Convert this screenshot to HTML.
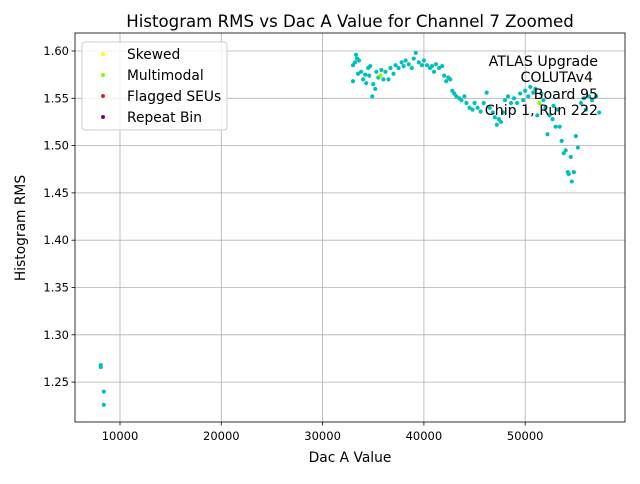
<!DOCTYPE html>
<html><head><meta charset="utf-8"><style>
body{margin:0;background:#fff;font-family:"DejaVu Sans","Liberation Sans",sans-serif}
svg text{font-family:"DejaVu Sans","Liberation Sans",sans-serif}
</style></head><body>
<svg id="chart" width="640" height="480" xmlns="http://www.w3.org/2000/svg"></svg>
<script>
const xs=[33.0,33.0,33.2,33.3,33.4,33.5,33.6,33.8,34.0,34.2,34.3,34.5,34.7,34.6,34.9,35.0,35.2,35.3,35.5,35.8,36.0,36.2,36.5,36.7,37.0,37.2,37.5,37.8,38.0,38.2,38.5,38.8,39.0,39.2,39.5,39.8,40.0,40.3,40.6,40.8,41.0,41.2,41.5,41.8,42.0,42.2,42.4,42.6,42.8,43.0,43.2,43.5,43.7,44.0,44.2,44.5,44.8,45.0,45.3,45.6,45.9,46.2,46.5,46.8,47.0,47.2,47.4,47.6,47.8,48.0,48.3,48.6,48.9,49.2,49.5,49.8,50.0,50.3,50.5,50.8,51.0,51.2,51.6,51.8,52.0,52.2,52.4,52.7,52.8,53.0,53.2,53.4,53.6,53.8,54.0,54.2,54.3,54.5,54.6,54.8,55.0,55.2,55.5,55.8,56.0,56.3,56.6,57.0,57.3,8.1,8.1,8.4,8.4];
const ys=[1.585,1.568,1.588,1.596,1.592,1.576,1.590,1.578,1.570,1.575,1.566,1.582,1.584,1.574,1.552,1.565,1.560,1.578,1.572,1.580,1.570,1.578,1.570,1.582,1.576,1.585,1.582,1.588,1.584,1.590,1.586,1.582,1.592,1.598,1.588,1.585,1.590,1.585,1.582,1.584,1.578,1.586,1.582,1.584,1.574,1.568,1.572,1.570,1.558,1.555,1.552,1.550,1.548,1.552,1.545,1.540,1.538,1.545,1.540,1.536,1.545,1.556,1.540,1.535,1.530,1.522,1.528,1.525,1.535,1.548,1.552,1.545,1.550,1.545,1.555,1.548,1.558,1.552,1.562,1.556,1.560,1.532,1.555,1.548,1.540,1.512,1.532,1.528,1.542,1.520,1.538,1.520,1.505,1.492,1.495,1.472,1.470,1.488,1.462,1.472,1.510,1.498,1.545,1.550,1.538,1.552,1.548,1.552,1.535,1.268,1.266,1.240,1.226];
const multiX=[35.7,51.4];
const multiY=[1.574,1.545];
const xTicks=[10000,20000,30000,40000,50000];
const yTicks=[1.25,1.30,1.35,1.40,1.45,1.50,1.55,1.60];
const L=75,R=625,T=33,B=422;
const X=v=>18.7+v*0.01013;
const Y=v=>51+(1.60-v)*946;
const NS='http://www.w3.org/2000/svg';
const svg=document.getElementById('chart');
function mk(tag,attrs,parent){const e=document.createElementNS(NS,tag);for(const k in attrs)e.setAttribute(k,attrs[k]);(parent||svg).appendChild(e);return e;}
xTicks.forEach(t=>{
 const g=mk('line',{x1:X(t),x2:X(t),y1:T,y2:B,stroke:'#b0b0b0','stroke-width':0.8});
 
 
 mk('line',{x1:X(t),x2:X(t),y1:B,y2:B+3.5,stroke:'#000','stroke-width':0.8});
 const tx=mk('text',{x:X(t),y:B+18,'text-anchor':'middle','font-size':11.5});
 tx.textContent=t;
 
 
});
yTicks.forEach(t=>{
 const g=mk('line',{x1:L,x2:R,y1:Y(t),y2:Y(t),stroke:'#b0b0b0','stroke-width':0.8});
 
 
 mk('line',{x1:L-3.5,x2:L,y1:Y(t),y2:Y(t),stroke:'#000','stroke-width':0.8});
 const tx=mk('text',{x:L-6,y:Y(t)+4,'text-anchor':'end','font-size':11.5});
 tx.textContent=t.toFixed(2);
 
 
});
xs.forEach((v,i)=>{
 const c=mk('circle',{cx:X(v*1000),cy:Y(ys[i]),r:2.1,fill:'#00bfbf'});
 
 
});
multiX.forEach((v,i)=>{
 const c=mk('circle',{cx:X(v*1000),cy:Y(multiY[i]),r:2.1,fill:'#7fff00'});
 
 
});
const fr=mk('rect',{x:L,y:T,width:R-L,height:B-T,fill:'none',stroke:'#000','stroke-width':0.8});


</script>
<svg style="position:absolute;left:0;top:0" width="640" height="480">
<text x="350" y="27" text-anchor="middle" font-size="16.6">Histogram RMS vs Dac A Value for Channel 7 Zoomed</text>
<text x="350" y="462" text-anchor="middle" font-size="13.8">Dac A Value</text>
<text transform="translate(25,228) rotate(-90)" text-anchor="middle" font-size="13.8">Histogram RMS</text>
<g>
<rect x="82" y="42" width="145" height="88" rx="3" fill="#fff" fill-opacity="0.8" stroke="#ccc"/>
<circle cx="103" cy="54" r="2" fill="#ffff00"/><text x="127" y="59" font-size="13.8">Skewed</text>
<circle cx="103" cy="75" r="2" fill="#7fff00"/><text x="127" y="80" font-size="13.8">Multimodal</text>
<circle cx="103" cy="96" r="2" fill="#d62728"/><text x="127" y="101" font-size="13.8">Flagged SEUs</text>
<circle cx="103" cy="117" r="2" fill="#800080"/><text x="127" y="122" font-size="13.8">Repeat Bin</text>
</g>
<g font-size="14.2" text-anchor="end">
<text x="598" y="66">ATLAS Upgrade</text>
<text x="593" y="82">COLUTAv4</text>
<text x="598" y="99">Board 95</text>
<text x="598" y="115">Chip 1, Run 222</text>
</g>
</svg>
</body></html>
